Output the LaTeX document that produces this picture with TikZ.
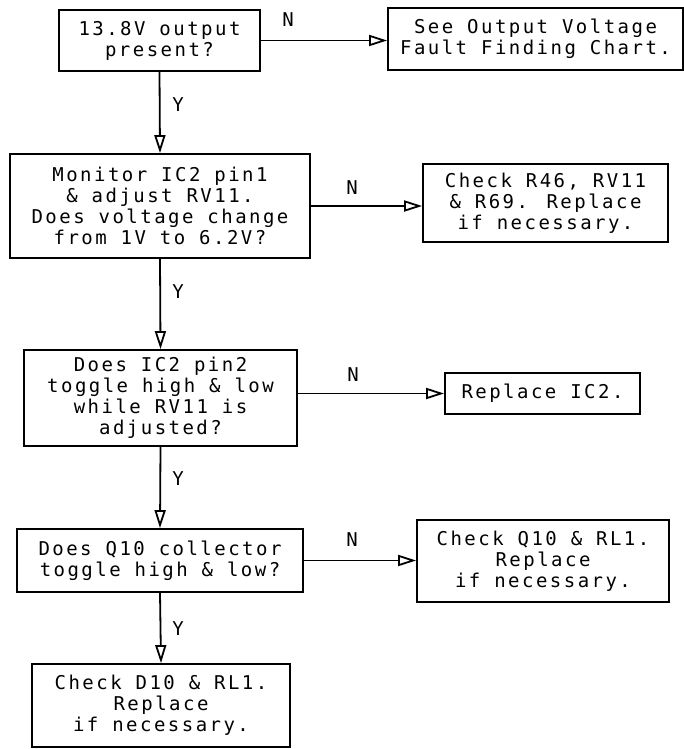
\documentclass[tikz,border=0pt]{standalone}
\usepackage{fontspec}
\newfontfamily\plotfont[LetterSpace=13]{DejaVu Sans Mono}
\usetikzlibrary{arrows.meta, calc}

\begin{document}
\begin{tikzpicture}[
    x=1pt, y=-1pt,
    >={Triangle[open, length=18pt, width=11pt]},
    every node/.style={font=\plotfont\fontsize{19}{21}\selectfont},
    chartbox/.style={draw, line width=1.8pt, align=center, inner sep=0pt},
    flow/.style={->, line width=1.8pt},
]
\useasboundingbox (0,0) rectangle (684,749);
% question boxes down the left column
\node[chartbox, minimum width=201pt, minimum height=61pt] (q1) at (159.5,40.5)
   {13.8V output\\present?};
\node[chartbox, minimum width=300pt, minimum height=104pt] (q2) at (160,206)
   {Monitor IC2 pin1\\\& adjust RV11.\\Does voltage change\\from 1V to 6.2V?};
\node[chartbox, minimum width=273pt, minimum height=96pt] (q3) at (160.5,398)
   {Does IC2 pin2\\toggle high \& low\\while RV11 is\\adjusted?};
\node[chartbox, minimum width=286pt, minimum height=63pt] (q4) at (160,560.5)
   {Does Q10 collector\\toggle high \& low?};
\node[chartbox, minimum width=258pt, minimum height=83pt] (a5) at (161,705.5)
   {Check D10 \& RL1.\\Replace\\if necessary.};
% action boxes on the right (the N branches)
\node[chartbox, minimum width=295pt, minimum height=62pt] (a1) at (535.5,39)
   {See Output Voltage\\Fault Finding Chart.};
\node[chartbox, minimum width=245pt, minimum height=78pt] (a2) at (545.5,203)
   {Check R46, RV11\\\& R69. Replace\\if necessary.};
\node[chartbox, minimum width=195pt, minimum height=41pt] (a3) at (542.5,393.5)
   {Replace IC2.};
\node[chartbox, minimum width=252pt, minimum height=82pt] (a4) at (543,561)
   {Check Q10 \& RL1.\\Replace\\if necessary.};
% Y branches
\draw[flow] (q1.south) -- (q2.north);
\draw[flow] (q2.south) -- (q3.north);
\draw[flow] (q3.south) -- (q4.north);
\draw[flow] (q4.south) -- (a5.north);
\node (y1) at (178,105) {Y};
\node (y2) at (178,292) {Y};
\node (y3) at (178,479) {Y};
\node (y4) at (178,629) {Y};
% N branches
\draw[flow] (q1.east) -- (q1.east -| a1.west);
\draw[flow] (q2.east) -- (q2.east -| a2.west);
\draw[flow] (q3.east |- a3.west) -- (a3.west);
\draw[flow] (q4.east) -- (q4.east -| a4.west);
\node (n1) at (288,20) {N};
\node (n2) at (352,188) {N};
\node (n3) at (353,375) {N};
\node (n4) at (352,540) {N};
\end{tikzpicture}
\end{document}
